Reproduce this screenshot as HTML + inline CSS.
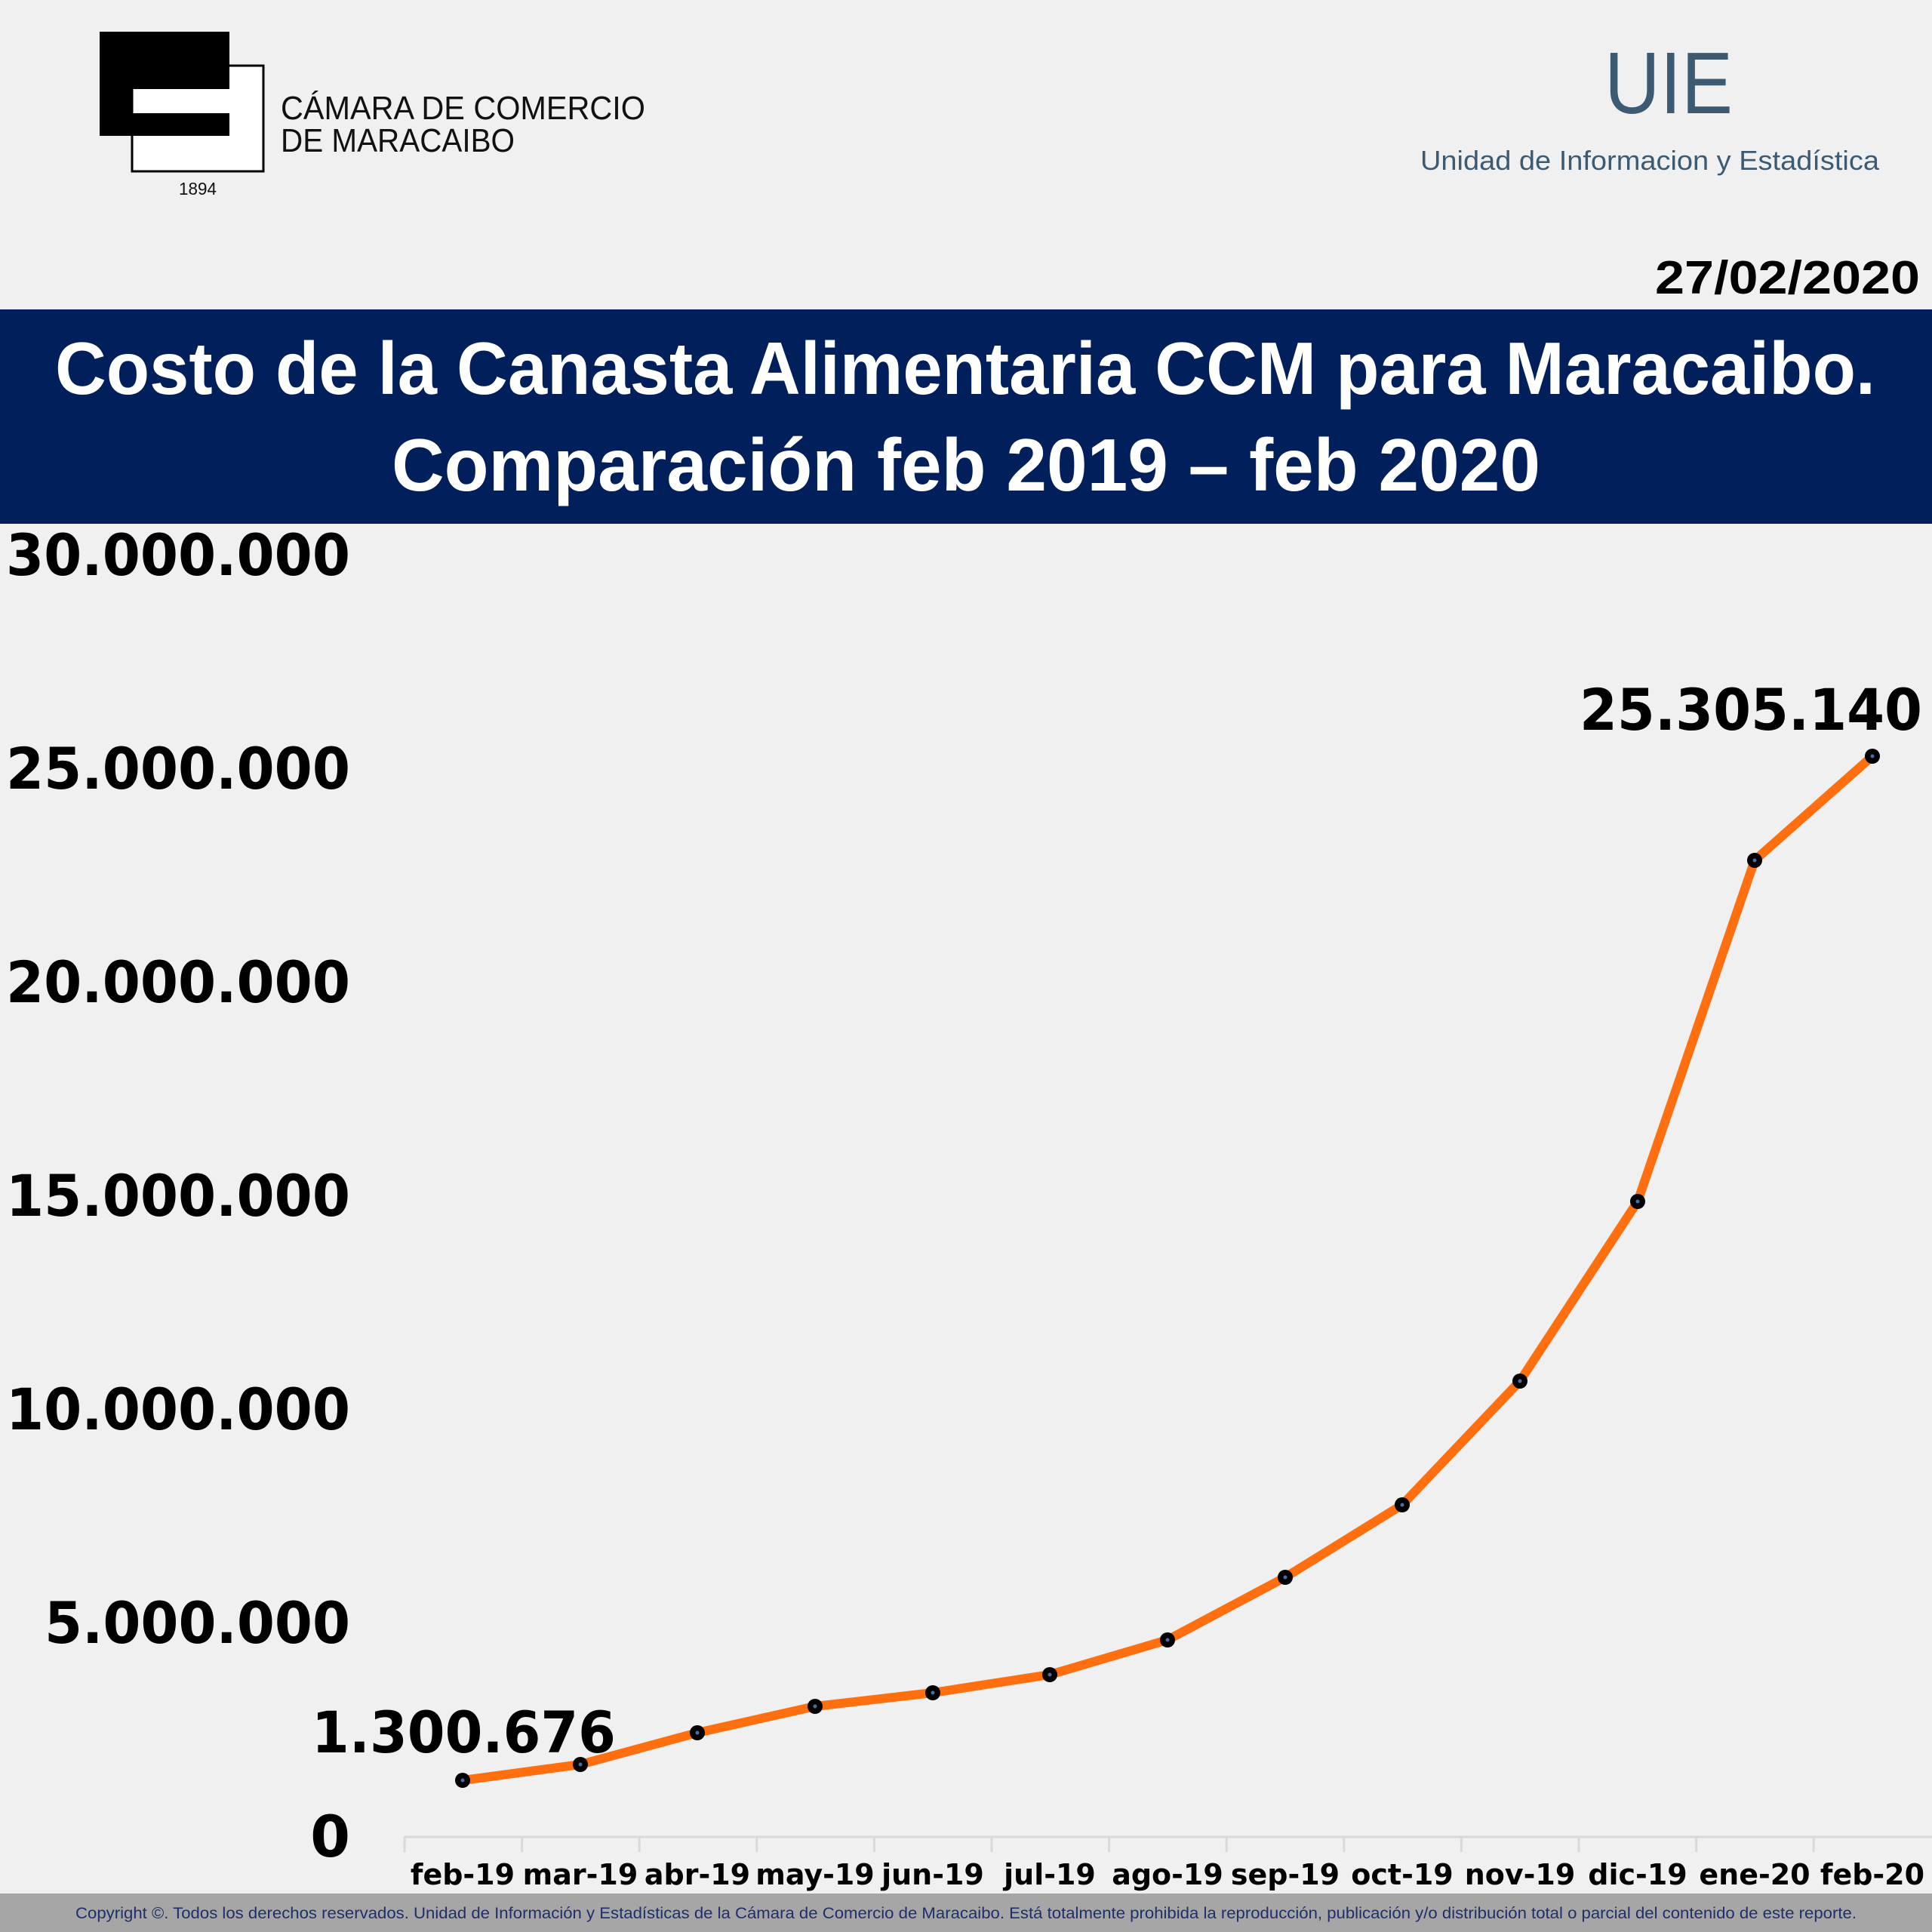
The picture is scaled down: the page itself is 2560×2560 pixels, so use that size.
<!DOCTYPE html>
<html><head><meta charset="utf-8"><style>
html,body{margin:0;padding:0;background:#f0f0f0}
svg{display:block}
</style></head><body>
<svg width="2560" height="2560" viewBox="0 0 2560 2560" xmlns="http://www.w3.org/2000/svg">
<rect width="2560" height="2560" fill="#f0f0f0"/>
<!-- logo -->
<rect x="132" y="42" width="172" height="138" fill="#000"/>
<rect x="175" y="87" width="174" height="140" fill="#fff" stroke="#000" stroke-width="3"/>
<rect x="175" y="86" width="129" height="32" fill="#000"/>
<rect x="175" y="150" width="129" height="30" fill="#000"/>
<g font-family="Liberation Sans, sans-serif" fill="#111">
<text x="372" y="158" font-size="44" textLength="483" lengthAdjust="spacingAndGlyphs">CÁMARA DE COMERCIO</text>
<text x="372" y="201" font-size="44" textLength="310" lengthAdjust="spacingAndGlyphs">DE MARACAIBO</text>
<text x="237" y="258" font-size="23" textLength="50" lengthAdjust="spacingAndGlyphs">1894</text>
</g>
<g font-family="Liberation Sans, sans-serif" fill="#3d5a73">
<text x="2126" y="150" font-size="116" textLength="170" lengthAdjust="spacingAndGlyphs">UIE</text>
<text x="1882" y="225" font-size="36" textLength="608" lengthAdjust="spacingAndGlyphs">Unidad de Informacion y Estadística</text>
</g>
<text x="2193" y="389" font-family="Liberation Sans, sans-serif" font-weight="bold" font-size="62" textLength="351" lengthAdjust="spacingAndGlyphs" fill="#000">27/02/2020</text>
<!-- title band -->
<rect x="0" y="410" width="2560" height="284" fill="#001f5b"/>
<g font-family="Liberation Sans, sans-serif" font-weight="bold" fill="#fff" font-size="98">
<text x="73" y="522" textLength="2412" lengthAdjust="spacingAndGlyphs">Costo de la Canasta Alimentaria CCM para Maracaibo.</text>
<text x="519" y="650" textLength="1522" lengthAdjust="spacingAndGlyphs">Comparación feb 2019 –  feb 2020</text>
</g>
<!-- y axis labels -->
<g font-family="DejaVu Sans, sans-serif" font-weight="bold" fill="#000" font-size="76" text-anchor="end">
<text x="464" y="762" textLength="456" lengthAdjust="spacingAndGlyphs">30.000.000</text>
<text x="464" y="1045" textLength="456" lengthAdjust="spacingAndGlyphs">25.000.000</text>
<text x="464" y="1328" textLength="456" lengthAdjust="spacingAndGlyphs">20.000.000</text>
<text x="464" y="1611" textLength="456" lengthAdjust="spacingAndGlyphs">15.000.000</text>
<text x="464" y="1894" textLength="456" lengthAdjust="spacingAndGlyphs">10.000.000</text>
<text x="464" y="2177" textLength="405" lengthAdjust="spacingAndGlyphs">5.000.000</text>
<text x="464" y="2460">0</text>
</g>
<!-- x axis -->
<g stroke="#d9d9d9" stroke-width="3">
<line x1="536" y1="2434" x2="2560" y2="2434"/>
<path d="M536 2434v20M691.6 2434v20M847.2 2434v20M1002.8 2434v20M1158.4 2434v20M1314 2434v20M1469.6 2434v20M1625.2 2434v20M1780.8 2434v20M1936.4 2434v20M2092 2434v20M2247.6 2434v20M2403.2 2434v20"/>
</g>
<g font-family="DejaVu Sans, sans-serif" font-weight="bold" fill="#000" font-size="38" text-anchor="middle">
<text x="613" y="2497">feb-19</text>
<text x="769" y="2497">mar-19</text>
<text x="924" y="2497">abr-19</text>
<text x="1080" y="2497">may-19</text>
<text x="1236" y="2497">jun-19</text>
<text x="1391" y="2497">jul-19</text>
<text x="1547" y="2497">ago-19</text>
<text x="1703" y="2497">sep-19</text>
<text x="1858" y="2497">oct-19</text>
<text x="2014" y="2497">nov-19</text>
<text x="2170" y="2497">dic-19</text>
<text x="2325" y="2497">ene-20</text>
<text x="2481" y="2497">feb-20</text>
</g>
<!-- series -->
<polyline fill="none" stroke="#ff6f0f" stroke-width="12" stroke-linejoin="round" points="613,2359 769,2338 924,2296 1080,2261 1236,2243 1391,2219 1547,2173 1703,2090 1858,1994 2014,1830 2170,1592 2325,1140 2481,1002"/>
<g fill="#000">
<circle cx="613" cy="2359" r="10"/><circle cx="769" cy="2338" r="10"/><circle cx="924" cy="2296" r="10"/><circle cx="1080" cy="2261" r="10"/><circle cx="1236" cy="2243" r="10"/><circle cx="1391" cy="2219" r="10"/><circle cx="1547" cy="2173" r="10"/><circle cx="1703" cy="2090" r="10"/><circle cx="1858" cy="1994" r="10"/><circle cx="2014" cy="1830" r="10"/><circle cx="2170" cy="1592" r="10"/><circle cx="2325" cy="1140" r="10"/><circle cx="2481" cy="1002" r="10"/>
</g>
<g fill="#4a6fa5">
<circle cx="613" cy="2359" r="2.5"/><circle cx="769" cy="2338" r="2.5"/><circle cx="924" cy="2296" r="2.5"/><circle cx="1080" cy="2261" r="2.5"/><circle cx="1236" cy="2243" r="2.5"/><circle cx="1391" cy="2219" r="2.5"/><circle cx="1547" cy="2173" r="2.5"/><circle cx="1703" cy="2090" r="2.5"/><circle cx="1858" cy="1994" r="2.5"/><circle cx="2014" cy="1830" r="2.5"/><circle cx="2170" cy="1592" r="2.5"/><circle cx="2325" cy="1140" r="2.5"/><circle cx="2481" cy="1002" r="2.5"/>
</g>
<g font-family="DejaVu Sans, sans-serif" font-weight="bold" fill="#000" font-size="76">
<text x="2093" y="967" textLength="454" lengthAdjust="spacingAndGlyphs">25.305.140</text>
<text x="413" y="2322" textLength="403" lengthAdjust="spacingAndGlyphs">1.300.676</text>
</g>
<!-- footer -->
<rect x="0" y="2509" width="2560" height="51" fill="#a6a6a6"/>
<text x="100" y="2542" font-family="Liberation Sans, sans-serif" font-size="21" fill="#1f2f6b" textLength="2360" lengthAdjust="spacingAndGlyphs">Copyright ©. Todos los derechos reservados. Unidad de Información y Estadísticas de la Cámara de Comercio de Maracaibo. Está totalmente prohibida la reproducción, publicación y/o distribución total o parcial del contenido de este reporte.</text>
</svg>
</body></html>
